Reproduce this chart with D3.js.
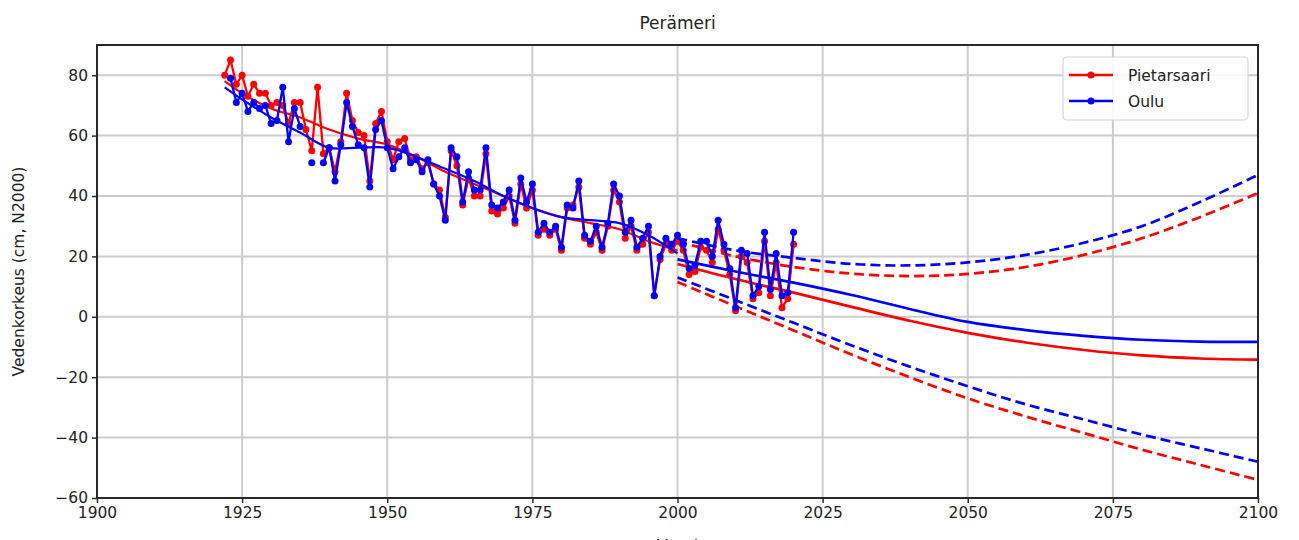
<!DOCTYPE html>
<html>
<head>
<meta charset="utf-8">
<script src="https://cdn.jsdelivr.net/npm/d3@7"></script>
<style>
    body { margin: 0; background: #ffffff; }
    text { font-family: "DejaVu Sans", sans-serif; }
</style>
</head>
<body>
<svg id="chart"></svg>
<script>
const title = "Perämeri";
const yLabel = "Vedenkorkeus (cm, N2000)";
const xLabel = "Vuosi";
const stations = ["Pietarsaari", "Oulu"];
const colors = ["#ff0000", "#0000ff"];

const xTicks = [1900, 1925, 1950, 1975, 2000, 2025, 2050, 2075, 2100];
const yTicks = [-60, -40, -20, 0, 20, 40, 60, 80];

// annual means 1922..2020 (null = missing)
const years = d3.range(1922, 2021);
const pietarsaari = [
    80, 85, 77, 80, 73, 77, 74, 74, 70, 71,
    70, 64, 71, 71, 62, 55, 76, 54, 56, 48,
    58, 74, 65, 61, 60, 45, 64, 68, 58, 52,
    58, 59, 52, 53, 49, 51, 44, 42, 33, 55,
    50, 37, 46, 40, 40, 54, 35, 34, 36, 40,
    31, 44, 36, 42, 27, 29, 27, 29, 22, 36,
    37, 43, 26, 24, 28, 22, 30, 42, 38, 26,
    30, 22, 24, 28, 7, 19, 24, 22, 25, 22,
    14, 15, 23, 22, 18, 29, 22, 14, 2, 20,
    18, 6, 8, 25, 7, 18, 3, 6, 24
];
const oulu = [
    null, 79, 71, 74, 68, 71, 69, 70, 64, 65,
    76, 58, 69, 63, null, 51, null, 51, 56, 45,
    57, 71, 63, 57, 56, 43, 62, 65, 56, 49,
    53, 56, 51, 52, 48, 52, 44, 40, 32, 56,
    53, 38, 48, 42, 42, 56, 37, 36, 38, 42,
    32, 46, 38, 44, 28, 31, 28, 30, 23, 37,
    36, 45, 27, 25, 30, 23, 31, 44, 40, 28,
    32, 23, 26, 30, 7, 20, 26, 24, 27, 24,
    16, 17, 25, 25, 20, 32, 24, 16, 3, 22,
    21, 7, 10, 28, 9, 21, 7, 8, 28
];

// smoothed trend of observations
const trendYears = [1922, 1925, 1930, 1935, 1940, 1945, 1950, 1955, 1960, 1965, 1970, 1975, 1980, 1985, 1990, 1995, 2000];
const pietarsaariTrend = [78, 74, 69, 66, 62, 59, 57, 53, 48, 44, 40, 36, 33, 31, 29, 25, 22];
const ouluTrend = [76, 72, 66, 61, 56, 56, 56, 53, 49, 45, 40, 36, 33, 32, 31, 27, 21];

// projections 2000..2100
const projYears = [2000, 2010, 2020, 2030, 2040, 2050, 2060, 2070, 2080, 2090, 2100];
const pietarsaariMid = [17.5, 12.5, 8, 3.3, -1.3, -5.3, -8.5, -11, -12.8, -13.8, -14.2];
const pietarsaariHigh = [25, 20, 16.5, 14.3, 13.5, 14.2, 16.5, 20.5, 26, 33, 41];
const pietarsaariLow = [11.5, 3.5, -4.5, -12.5, -20, -27, -33, -38.5, -44, -49, -54];
const ouluMid = [19, 15, 11.3, 7.2, 2.6, -1.7, -4.4, -6.3, -7.6, -8.2, -8.3];
const ouluHigh = [26, 22, 19.5, 17.5, 17, 18, 20.5, 24.5, 30, 38, 47];
const ouluLow = [13, 5.5, -2, -9.5, -16.5, -23, -29, -34, -39, -43.5, -48];

const W = 1299, H = 540;
const margin = {l: 97, r: 41, t: 45, b: 42};

const svg = d3.select("#chart").attr("width", W).attr("height", H);

const x = d3.scaleLinear().domain([1900, 2100]).range([margin.l, W - margin.r]);
const y = d3.scaleLinear().domain([-60, 90]).range([H - margin.b, margin.t]);

// grid
svg.append("g").selectAll("line").data(xTicks).join("line")
    .attr("x1", d => x(d)).attr("x2", d => x(d))
    .attr("y1", margin.t).attr("y2", H - margin.b)
    .attr("stroke", "#cccccc").attr("stroke-width", 2);
svg.append("g").selectAll("line").data(yTicks).join("line")
    .attr("x1", margin.l).attr("x2", W - margin.r)
    .attr("y1", d => y(d)).attr("y2", d => y(d))
    .attr("stroke", "#cccccc").attr("stroke-width", 2);

const plot = svg.append("g");

function zip(xs, ys) {
    return xs.map((v, i) => ({year: v, value: ys[i]}));
}

const obsLine = d3.line()
    .defined(d => d.value != null)
    .x(d => x(d.year)).y(d => y(d.value));
const smooth = d3.line()
    .x(d => x(d.year)).y(d => y(d.value))
    .curve(d3.curveCatmullRom);

const series = [
    {obs: pietarsaari, trend: pietarsaariTrend, mid: pietarsaariMid, high: pietarsaariHigh, low: pietarsaariLow},
    {obs: oulu, trend: ouluTrend, mid: ouluMid, high: ouluHigh, low: ouluLow}
];

series.forEach((s, i) => {
    const c = colors[i];
    const data = zip(years, s.obs);
    plot.append("path").attr("d", obsLine(data))
        .attr("fill", "none").attr("stroke", c).attr("stroke-width", 2.3);
    plot.append("g").selectAll("circle").data(data.filter(d => d.value != null)).join("circle")
        .attr("cx", d => x(d.year)).attr("cy", d => y(d.value))
        .attr("r", 3.5).attr("fill", c);
    plot.append("path").attr("d", smooth(zip(trendYears, s.trend)))
        .attr("fill", "none").attr("stroke", c).attr("stroke-width", 2.2);
    plot.append("path").attr("d", smooth(zip(projYears, s.mid)))
        .attr("fill", "none").attr("stroke", c).attr("stroke-width", 2.7);
    [s.high, s.low].forEach(arr => {
        plot.append("path").attr("d", smooth(zip(projYears, arr)))
            .attr("fill", "none").attr("stroke", c).attr("stroke-width", 2.7)
            .attr("stroke-dasharray", "10,5");
    });
});

// axes frame
svg.append("rect")
    .attr("x", margin.l).attr("y", margin.t)
    .attr("width", W - margin.l - margin.r).attr("height", H - margin.t - margin.b)
    .attr("fill", "none").attr("stroke", "#2a2a2a").attr("stroke-width", 2);

const xAxis = svg.append("g")
    .attr("transform", "translate(0," + (H - margin.b) + ")")
    .call(d3.axisBottom(x).tickValues(xTicks).tickFormat(d3.format("d")).tickSize(5).tickPadding(4));
const yAxis = svg.append("g")
    .attr("transform", "translate(" + margin.l + ",0)")
    .call(d3.axisLeft(y).tickValues(yTicks).tickFormat(d => d < 0 ? "\u2212" + Math.abs(d) : d).tickSize(5).tickPadding(4));
[xAxis, yAxis].forEach(a => {
    a.select(".domain").remove();
    a.selectAll(".tick line").attr("stroke", "#2a2a2a").attr("stroke-width", 1.5);
    a.selectAll("text").attr("font-size", 15.5).attr("fill", "#222")
        .style("font-family", "DejaVu Sans, sans-serif");
});

svg.append("text")
    .attr("x", (margin.l + W - margin.r) / 2).attr("y", 29)
    .attr("text-anchor", "middle").attr("font-size", 17).attr("fill", "#222")
    .text(title);

svg.append("text")
    .attr("transform", "translate(24," + ((margin.t + H - margin.b) / 2) + ") rotate(-90)")
    .attr("text-anchor", "middle").attr("font-size", 15.5).attr("fill", "#222")
    .text(yLabel);

// x label sits mostly below the visible area, as in the source image
svg.append("text")
    .attr("x", (margin.l + W - margin.r) / 2).attr("y", 551)
    .attr("text-anchor", "middle").attr("font-size", 15.5).attr("fill", "#222")
    .text(xLabel);

// legend
const legend = svg.append("g").attr("transform", "translate(1063,57)");
legend.append("rect")
    .attr("width", 185).attr("height", 63).attr("rx", 4)
    .attr("fill", "#ffffff").attr("fill-opacity", 0.85)
    .attr("stroke", "#d6d6d6").attr("stroke-width", 1.2);
stations.forEach((name, i) => {
    const ly = 18 + i * 26;
    legend.append("line").attr("x1", 6).attr("x2", 50).attr("y1", ly).attr("y2", ly)
        .attr("stroke", colors[i]).attr("stroke-width", 2.3);
    legend.append("circle").attr("cx", 28).attr("cy", ly).attr("r", 3.5).attr("fill", colors[i]);
    legend.append("text").attr("x", 65).attr("y", ly + 5.5)
        .attr("font-size", 15.5).attr("fill", "#222").text(name);
});
</script>
</body>
</html>
